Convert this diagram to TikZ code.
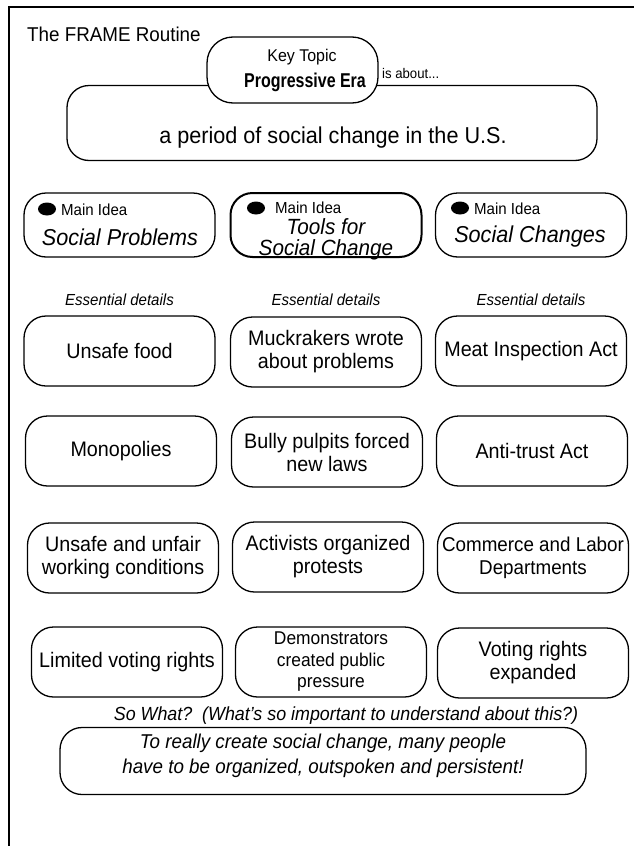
\documentclass[tikz,border=0pt]{standalone}
\usepackage{fontspec}
\setmainfont{Liberation Sans}[FakeStretch=0.94]
\usetikzlibrary{shapes.geometric}
\tikzset{
  rbox/.style={draw=black, line width=1.3pt, fill=white, rounded corners=22pt, inner sep=0pt, align=center},
  detail/.style={rbox, minimum width=191pt, minimum height=70pt, font=\fontsize{21}{23}\selectfont},
  mainbox/.style={rbox, minimum width=191pt, minimum height=64pt},
  maintext/.style={inner sep=0pt, align=center, font=\fontsize{23}{22}\selectfont\itshape},
  bullet/.style={ellipse, fill=black, minimum width=18pt, minimum height=13pt, inner sep=0pt},
  mainlabel/.style={anchor=west, inner sep=0pt, font=\fontsize{16}{18}\selectfont},
  esslabel/.style={inner sep=0pt, font=\fontsize{16}{18}\selectfont\itshape},
}
\begin{document}
\begin{tikzpicture}[x=1pt,y=-1pt]
\useasboundingbox (0,0) rectangle (634,846);
% frame
\draw[line width=2pt] (8,7) -- (634,7);
\draw[line width=1.4pt] (9,7) -- (9,846);

\node[anchor=west, inner sep=0pt, font=\fontsize{20}{22}\selectfont] (title) at (27,34) {The FRAME Routine};

\node[rbox, minimum width=530pt, minimum height=75pt] (about) at (332,123) {};
\node[inner sep=0pt, font=\fontsize{23}{26}\selectfont] (abouttext) at (333,138) {a period of social change in the U.S.};
\node[rbox, minimum width=171pt, minimum height=66pt, rounded corners=26pt] (topic) at (292.5,70) {};
\node[inner sep=0pt, font=\fontsize{17}{19}\selectfont] (keytopic) at (302,57) {Key Topic};
\node[inner sep=0pt, font=\fontsize{20}{22}\selectfont\bfseries] (era) at (305,82) {\scalebox{0.85}[1]{Progressive Era}};
\node[anchor=west, inner sep=0pt, font=\fontsize{14}{16}\selectfont] (isabout) at (382,73) {is about...};

% main ideas
\node[mainbox] (m1) at (119.5,225) {};
\node[mainbox, line width=2pt] (m2) at (326,225) {};
\node[mainbox] (m3) at (531,225) {};
\node[maintext] (m1t) at (120,237) {Social Problems};
\node[maintext, font=\fontsize{22}{21}\selectfont\itshape] (m2t) at (326,239) {Tools for\\Social Change};
\node[maintext] (m3t) at (530,237) {Social Changes};
\node[bullet] (b1) at (47,209) {};
\node[bullet] (b2) at (256,208) {};
\node[bullet] (b3) at (460,208) {};
\node[mainlabel] (l1) at (61,210) {Main Idea};
\node[mainlabel] (l2) at (275,208) {Main Idea};
\node[mainlabel] (l3) at (474,209) {Main Idea};

\node[esslabel] (e1) at (119.5,300) {Essential details};
\node[esslabel] (e2) at (326,300) {Essential details};
\node[esslabel] (e3) at (531,300) {Essential details};

% details
\node[detail] (d11) at (119.5,351) {Unsafe food};
\node[detail] (d12) at (326,352) {Muckrakers wrote\\about problems};
\node[detail] (d13) at (531,351) {Meat Inspection Act};

\node[detail] (d21) at (121,451) {Monopolies};
\node[detail] (d22) at (327,452) {Bully pulpits forced\\new laws};
\node[detail] (d23) at (532,451) {Anti-trust Act};

\node[detail] (d31) at (123,558) {Unsafe and unfair\\working conditions};
\node[detail] (d32) at (328,557) {Activists organized\\protests};
\node[detail, font=\fontsize{20}{23}\selectfont] (d33) at (533,558) {Commerce and Labor\\Departments};

\node[detail] (d41) at (127,662) {Limited voting rights};
\node[detail, font=\fontsize{18.5}{21.5}\selectfont] (d42) at (331,662) {Demonstrators\\created public\\pressure};
\node[detail] (d43) at (533,663) {Voting rights\\expanded};

\node[inner sep=0pt, font=\fontsize{19}{21}\selectfont\itshape] (sowhat) at (346,716) {So What?\ \ (What’s so important to understand about this?)};
\node[rbox, minimum width=526pt, minimum height=67pt] (final) at (323,761) {};
\node[inner sep=0pt, align=center, font=\fontsize{20}{25}\selectfont\itshape] (finaltext) at (323,756) {To really create social change, many people\\have to be organized, outspoken and persistent!};
\end{tikzpicture}
\end{document}
